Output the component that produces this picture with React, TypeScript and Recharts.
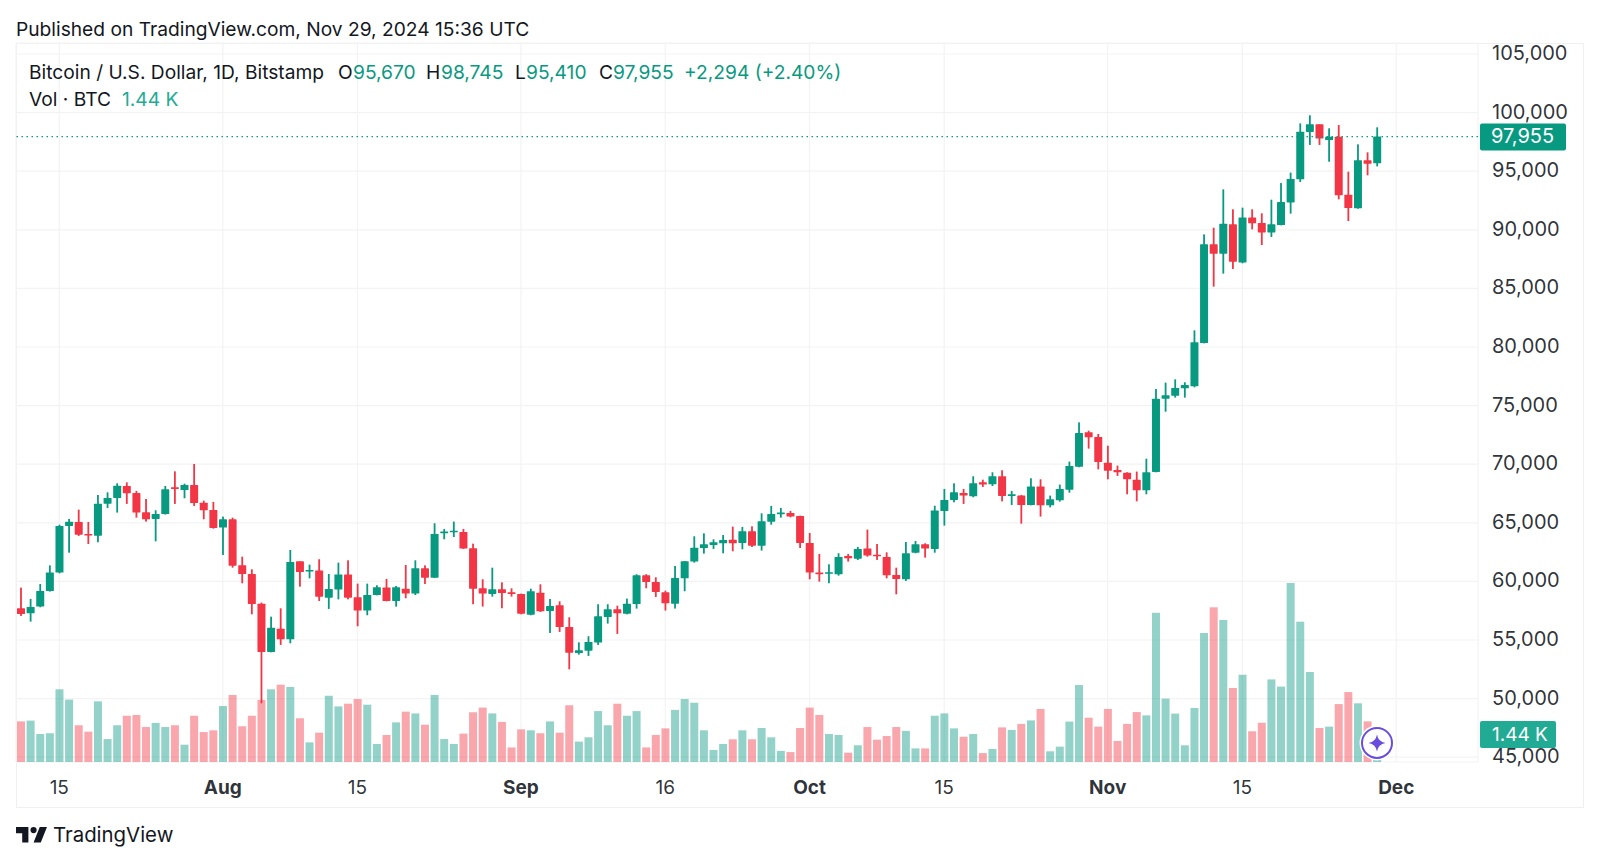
import React from "react";
import { ComposedChart, Bar, XAxis, YAxis, CartesianGrid, ReferenceLine, ReferenceDot } from "recharts";

const monthSpans: [string, number, number][] = [["Jul", 11, 31], ["Aug", 1, 31], ["Sep", 1, 30], ["Oct", 1, 31], ["Nov", 1, 30], ["Dec", 1, 9]];
const categories: string[] = [];
monthSpans.forEach(([m, a, b]) => { for (let d = a; d <= b; d++) categories.push(m + " " + d); });

const opens = [
  57700,57280,57850,59180,60750,64730,65070,64050,63900,66630,
  67120,68140,67540,65900,65330,65750,68030,67800,68230,66720,
  66090,64590,65300,61370,60630,58100,53980,55970,55060,61710,
  60890,60920,58610,59300,60580,58640,57510,58840,59470,58330,
  59380,58960,61120,60320,64160,64220,64220,62820,59410,58930,
  59330,59070,58930,57160,59040,57480,57960,56110,53890,54090,
  54780,56970,57620,57250,58070,60520,59950,59070,58100,60260,
  61690,62850,63110,63250,63560,63280,64270,63050,65100,65780,
  65840,65580,63280,60750,60690,60610,62170,61940,62800,62280,
  62080,60550,60180,62450,63170,62770,66010,66950,67550,67260,
  68460,68280,68970,67320,67320,66520,68090,66490,66920,67830,
  69790,72720,72320,70130,69510,69280,68680,67770,69340,75590,
  75850,76470,76650,80340,88760,87960,90470,87200,91060,90580,
  89780,90410,92340,94310,98350,99000,97660,97950,93000,91830,
  95930,95670,
];
const highs = [
  59470,58500,59780,61370,64840,65330,66120,65070,67370,67600,
  68370,68450,67720,67030,66070,68140,69390,68340,70020,66890,
  66780,65530,65440,62110,61030,58190,56990,57700,62680,61710,
  61430,61890,60630,61600,61800,59810,59810,59670,60210,59610,
  61400,61800,61370,64960,64470,65100,64470,63220,60180,61170,
  59920,59410,58960,59380,59750,58500,58300,56940,54800,55320,
  58050,58050,57930,58530,60610,60610,60350,59210,61320,61740,
  63850,64100,63590,63960,64670,64640,64700,65810,66440,66270,
  66010,65610,64130,62340,61460,62400,62340,62940,64420,63190,
  62480,61170,63360,63450,63250,66460,67890,68370,67890,68970,
  68680,69310,69480,67720,67370,68800,68710,67320,68260,70220,
  73570,72860,72580,71580,69880,69310,69370,70470,76420,76960,
  77240,76990,81420,89610,90180,93450,91750,91890,91750,91410,
  92570,93990,94880,99080,99770,99000,98660,98940,94960,97290,
  96610,98745,
];
const lows = [
  57050,56570,57790,59130,60690,62450,63880,63190,63340,66260,
  65870,66610,65440,65100,63420,65700,66610,67090,66440,65300,
  64500,62250,61170,59840,57190,49600,53950,54580,54720,59550,
  60260,58330,57650,58470,58470,56170,57110,58810,58300,57850,
  58560,58840,59780,60290,63590,63790,62770,58050,57850,58700,
  57710,58700,57190,57110,57390,55600,55690,52500,53750,53640,
  54580,56400,55520,57190,57680,59410,58670,57510,57680,59160,
  61600,62370,62770,62400,62570,62740,62940,62630,64840,65440,
  65470,62850,60180,59980,59840,60490,61690,61830,62110,61830,
  60260,58900,60040,62400,62030,62450,64760,66750,66610,67180,
  68060,68140,66830,66520,64930,66490,65530,66320,66810,67570,
  69740,71330,69560,68710,69000,67430,66830,67430,69310,74480,
  75680,75680,76560,80310,85150,86260,86660,87140,90040,88700,
  89390,90380,91380,94080,97240,97240,95810,92600,90750,91800,
  94650,95410,
];
const closes = [
  57220,57820,59180,60750,64730,65100,63990,63930,66630,67120,
  68170,67520,65870,65300,65750,67860,67910,68230,66690,66070,
  64560,65300,61340,60630,58070,53980,56050,55060,61660,60800,
  60980,58700,59350,60580,58610,57510,58840,59500,58330,59500,
  58960,61120,60320,64050,64250,64330,62800,59380,58960,59330,
  59010,58930,57250,59160,57450,57900,56110,53920,54120,54830,
  57020,57620,57280,58100,60520,59950,59100,58130,60290,61720,
  62880,63170,63340,63540,63250,64270,63050,65130,65750,65870,
  65530,63280,60750,60660,60780,62080,61970,62770,62200,62200,
  60520,60210,62400,63170,62800,66040,66950,67600,67320,68370,
  68260,68970,67290,67430,66520,68090,66490,67000,67890,69850,
  72660,72290,70190,69450,69310,68710,67770,69310,75590,75880,
  76500,76760,80400,88760,87960,90520,87280,91060,90550,89780,
  90470,92370,94340,98370,99000,97780,97950,92940,91860,95930,
  95640,97955,
];
const volumes = [
  2.09,2.13,1.44,1.48,3.74,3.21,1.89,1.56,3.12,1.18,
  1.89,2.38,2.42,1.80,2.01,1.80,1.89,0.89,2.38,1.54,
  1.63,2.88,3.45,1.84,2.38,3.19,3.74,3.98,3.86,2.25,
  1.01,1.51,3.41,2.86,3.00,3.24,2.95,0.93,1.39,2.04,
  2.59,2.50,1.92,3.45,1.18,0.93,1.46,2.56,2.80,2.50,
  2.06,0.75,1.68,1.63,1.48,2.09,1.51,2.92,1.05,1.27,
  2.62,1.89,3.00,2.38,2.62,0.75,1.39,1.73,2.68,3.24,
  3.05,1.63,0.62,0.93,1.17,1.63,1.17,1.75,1.27,0.57,
  0.51,1.75,2.80,2.42,1.44,1.39,0.48,0.86,1.80,1.15,
  1.34,1.80,1.60,0.70,0.70,2.38,2.50,1.73,1.30,1.44,
  0.46,0.67,1.78,1.65,1.96,2.14,2.73,0.55,0.79,2.08,
  3.96,2.28,1.82,2.73,1.08,1.96,2.57,2.40,7.68,3.26,
  2.49,0.86,2.78,6.64,7.96,7.31,3.81,4.49,1.58,2.02,
  4.25,3.88,9.21,7.22,4.63,1.75,1.82,2.98,3.60,3.02,
  2.09,1.44,
];

const priceTicks = [45000,50000,55000,60000,65000,70000,75000,80000,85000,90000,95000,100000,105000];
const timeTicks = ["Jul 15","Aug 1","Aug 15","Sep 1","Sep 16","Oct 1","Oct 15","Nov 1","Nov 15","Dec 1"];
const timeLabels = ["15","Aug","15","Sep","16","Oct","15","Nov","15","Dec"];
const boldLabels = ["Aug","Sep","Oct","Nov","Dec"];
const lastClose = 97955;
const lastVolume = 1.44;
const legendName = "Bitcoin / U.S. Dollar, 1D, Bitstamp";

const GREEN = "#089981";
const RED = "#f23645";
const TEAL = "#22ab94";
const GRID = "#f3f3f4";
const INK = "#131722";
const FONT = "Inter, 'Noto Sans', sans-serif";

const rows = categories.map((day, i) => ({
  day,
  range: i < opens.length ? [lows[i], highs[i]] : null,
  open: opens[i],
  high: highs[i],
  low: lows[i],
  close: closes[i],
  volume: i < volumes.length ? volumes[i] : null,
}));

function Candle(props: any) {
  const { x, y, width, height, payload } = props;
  if (!payload || payload.open == null || !height) return null;
  const top = Math.min(y, y + height);
  const pxPerUnit = Math.abs(height) / (payload.high - payload.low);
  const yOf = (v: number) => top + (payload.high - v) * pxPerUnit;
  const up = payload.close >= payload.open;
  const c = up ? GREEN : RED;
  const bodyTop = yOf(Math.max(payload.open, payload.close));
  const bodyH = Math.max(1.6, Math.abs(yOf(payload.open) - yOf(payload.close)));
  const cx = x + width / 2;
  return (
    <g>
      <rect x={cx - 0.9} y={top} width={1.8} height={Math.abs(height)} fill={c} />
      <rect x={x} y={bodyTop} width={width} height={bodyH} fill={c} rx={0.6} />
    </g>
  );
}

function VolumeBar(props: any) {
  const { x, y, width, height, payload } = props;
  if (!payload || payload.open == null) return null;
  const c = payload.close >= payload.open ? GREEN : RED;
  return <rect x={x} y={y} width={width} height={height} fill={c} fillOpacity={0.44} />;
}

function TimeTick(props: any) {
  const { x, y, payload } = props;
  const label = timeLabels[timeTicks.indexOf(payload.value)];
  const bold = boldLabels.includes(label);
  return (
    <text x={x} y={y + 24} textAnchor="middle" fontFamily={FONT} fontSize={19} fontWeight={bold ? 700 : 400} fill={INK} fillOpacity={0.9}>
      {label}
    </text>
  );
}

function PriceTick(props: any) {
  const { x, y, payload } = props;
  return (
    <text x={x} y={y + 6} textAnchor="start" fontFamily={FONT} fontSize={20} fill={INK} fillOpacity={0.9}>
      {payload.value.toLocaleString("en-US")}
    </text>
  );
}

function PriceTag(props: any) {
  const vb = props.viewBox;
  return (
    <g>
      <rect x={vb.x + vb.width + 2} y={vb.y - 13} width={86} height={27} rx={2} fill={GREEN} />
      <text x={vb.x + vb.width + 13} y={vb.y + 6} fontFamily={FONT} fontSize={20} fill="#fff">{lastClose.toLocaleString("en-US")}</text>
    </g>
  );
}

function VolumeTag(props: any) {
  const vb = props.viewBox;
  return (
    <g>
      <rect x={vb.x + vb.width + 2} y={vb.y - 13} width={76} height={27} rx={2} fill={TEAL} />
      <text x={vb.x + vb.width + 14} y={vb.y + 7} fontFamily={FONT} fontSize={19} fill="#fff">{lastVolume.toFixed(2)} K</text>
    </g>
  );
}

function SparkIcon(props: any) {
  const { cx, cy } = props;
  return (
    <g>
      <circle cx={cx} cy={cy} r={17.5} fill="#fff" />
      <circle cx={cx} cy={cy} r={15} fill="#fff" stroke="#6a4de0" strokeWidth={2} />
      <path d={`M${cx} ${cy - 8.5}Q${cx + 1.2} ${cy - 1.2} ${cx + 8.5} ${cy}Q${cx + 1.2} ${cy + 1.2} ${cx} ${cy + 8.5}Q${cx - 1.2} ${cy + 1.2} ${cx - 8.5} ${cy}Q${cx - 1.2} ${cy - 1.2} ${cx} ${cy - 8.5}Z`} fill="#6a4de0" />
    </g>
  );
}

const abs = (left: number, top: number, color: string, size = 19.2): React.CSSProperties => ({
  position: "absolute", left, top, color, fontSize: size, lineHeight: "24px", fontFamily: FONT, whiteSpace: "nowrap",
});

export default function App() {
  return (
    <div style={{ position: "absolute", left: 0, top: 0, width: 1600, height: 864, background: "#fff", overflow: "hidden" }}>
      <div style={{ position: "absolute", left: 16, top: 43, width: 1568, height: 765, border: "1px solid #f0f0f1", boxSizing: "border-box" }} />
      <div style={abs(16, 17, INK)}>Published on TradingView.com, Nov 29, 2024 15:36 UTC</div>
      <div style={{ position: "absolute", left: 0, top: 0 }}>
        <ComposedChart width={1600} height={864} data={rows} margin={{ top: 43, right: 0, bottom: 0, left: 16 }} barCategoryGap={0}>
          <CartesianGrid xAxisId="time" yAxisId="price" stroke={GRID} strokeWidth={1.2} />
          <XAxis xAxisId="time" dataKey="day" ticks={timeTicks} interval={0} height={102} axisLine={false} tickLine={false} tick={<TimeTick />} />
          <XAxis xAxisId="volumeTime" dataKey="day" hide />
          <YAxis yAxisId="price" orientation="right" width={122} domain={[44590, 105939]} ticks={priceTicks} allowDataOverflow axisLine={false} tickLine={false} tickSize={0} tickMargin={14} interval={0} tick={<PriceTick />} />
          <YAxis yAxisId="volume" orientation="left" hide domain={[0, 37]} allowDataOverflow />
          <Bar xAxisId="volumeTime" yAxisId="volume" dataKey="volume" barSize={8} isAnimationActive={false} shape={<VolumeBar />} />
          <Bar xAxisId="time" yAxisId="price" dataKey="range" barSize={8} isAnimationActive={false} shape={<Candle />} />
          <ReferenceLine xAxisId="time" yAxisId="price" y={lastClose} stroke={GREEN} strokeWidth={1.2} strokeDasharray="1.5 3.5" label={<PriceTag />} />
          <ReferenceLine xAxisId="time" yAxisId="volume" y={lastVolume} stroke="none" label={<VolumeTag />} />
          <ReferenceDot xAxisId="time" yAxisId="volume" x="Nov 29" y={0.98} shape={<SparkIcon />} />
        </ComposedChart>
      </div>
      <div style={abs(29, 60, INK)}>{legendName}</div>
      <div style={abs(338, 60, INK)}>O</div>
      <div style={abs(353, 60, GREEN)}>{opens[141].toLocaleString("en-US")}</div>
      <div style={abs(426, 60, INK)}>H</div>
      <div style={abs(441, 60, GREEN)}>{highs[141].toLocaleString("en-US")}</div>
      <div style={abs(515, 60, INK)}>L</div>
      <div style={abs(526, 60, GREEN)}>{lows[141].toLocaleString("en-US")}</div>
      <div style={abs(599, 60, INK)}>C</div>
      <div style={abs(613, 60, GREEN)}>{lastClose.toLocaleString("en-US")}</div>
      <div style={abs(684, 60, GREEN)}>+2,294 (+2.40%)</div>
      <div style={abs(29, 87, INK)}>Vol · BTC</div>
      <div style={abs(122, 87, TEAL)}>{lastVolume.toFixed(2)} K</div>
      <svg style={{ position: "absolute", left: 16, top: 827 }} width="31" height="16" viewBox="2 6 30 15.5">
        <path d="M14 6H2v6h6v9h6V6Zm12 15h-7l6-15h7l-6 15Zm-7-9a3 3 0 1 0 0-6 3 3 0 0 0 0 6Z" fill={INK} />
      </svg>
      <div style={abs(53, 823, INK, 20.4)}>TradingView</div>
    </div>
  );
}
